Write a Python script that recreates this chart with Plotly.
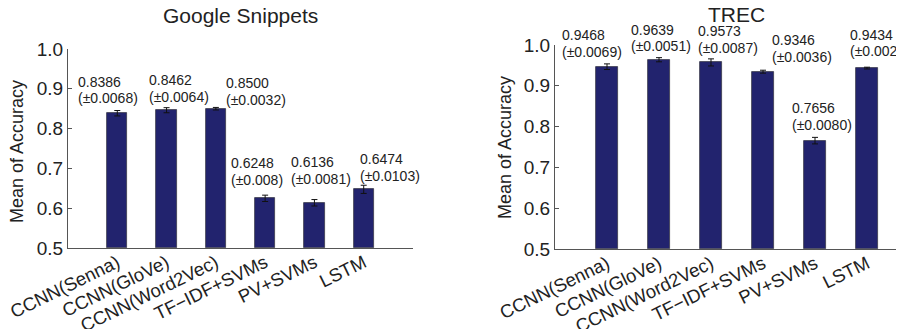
import plotly.graph_objects as go

categories = ["CCNN(Senna)", "CCNN(GloVe)", "CCNN(Word2Vec)", "TF\u2212IDF+SVMs", "PV+SVMs", "LSTM"]

google_mean = [0.8386, 0.8462, 0.8500, 0.6248, 0.6136, 0.6474]
google_std_text = ["0.0068", "0.0064", "0.0032", "0.008", "0.0081", "0.0103"]

trec_mean = [0.9468, 0.9639, 0.9573, 0.9346, 0.7656, 0.9434]
trec_std_text = ["0.0069", "0.0051", "0.0087", "0.0036", "0.0080", "0.0022"]

titles = ["Google Snippets", "TREC"]
y_title = "Mean of Accuracy"
y_ticks = [0.5, 0.6, 0.7, 0.8, 0.9, 1.0]

# ---- layout / style ----
PAGE_OFF = 8            # default body margin of the html page
W, H = 904 - PAGE_OFF, 329 - PAGE_OFF
bar_color = "#22236e"
text_color = "#222222"
font_family = "Liberation Sans, Arial, Helvetica, sans-serif"

# positions of the hand-placed value labels (offset from bar, y in data units)
google_label_dx = [-0.84, -0.40, 0.17, -0.73, -0.51, -0.11]
google_label_y = [0.897, 0.901, 0.893, 0.692, 0.694, 0.703]
trec_label_dx = [-0.90, -0.58, -0.28, 0.13, -0.48, -0.36]
trec_label_y = [1.004, 1.017, 1.014, 0.991, 0.825, 1.005]

def px_x(p):
    return (p - PAGE_OFF) / W

def px_y(p):
    return (H - (p - PAGE_OFF)) / H

positions = list(range(1, len(categories) + 1))
y_range = [0.5, 1.0]

panels = [
    dict(mean=google_mean, stdt=google_std_text, dx=google_label_dx, ly=google_label_y,
         xa="x", ya="y", xdom=[px_x(68), px_x(413)], xrange=[0, 7],
         ydom=[px_y(248), px_y(49)]),
    dict(mean=trec_mean, stdt=trec_std_text, dx=trec_label_dx, ly=trec_label_y,
         xa="x2", ya="y2", xdom=[px_x(555), 1.0], xrange=[0, 349 / 52],
         ydom=[px_y(249), px_y(45)]),
]

def to_paper(v, dom, rng):
    return dom[0] + (v - rng[0]) / (rng[1] - rng[0]) * (dom[1] - dom[0])

fig = go.Figure()
annotations = []

for p in panels:
    fig.add_trace(go.Bar(
        x=positions, y=[m - y_range[0] for m in p["mean"]], base=y_range[0],
        width=0.41,
        marker=dict(color=bar_color, line=dict(color="#3a3a4a", width=0.8)),
        error_y=dict(type="data", array=[float(s) for s in p["stdt"]], color="#111111",
                     thickness=1, width=3),
        xaxis=p["xa"], yaxis=p["ya"], showlegend=False, hoverinfo="skip",
    ))
    for k, (m, s) in enumerate(zip(p["mean"], p["stdt"])):
        ax = to_paper(positions[k] + p["dx"][k], p["xdom"], p["xrange"])
        ay = to_paper(p["ly"][k], p["ydom"], y_range)
        for line, shift in [(f"{m:.4f}", 8.3), (f"(\u00b1{s})", -8.3)]:
            annotations.append(dict(
                x=ax, y=ay, xref="paper", yref="paper",
                text=line, showarrow=False, xanchor="left", yanchor="middle",
                yshift=shift, font=dict(size=14, color=text_color, family=font_family),
            ))

# titles
annotations.append(dict(x=px_x(240), y=px_y(15), xref="paper", yref="paper", text=titles[0],
                        showarrow=False, xanchor="center", yanchor="middle",
                        font=dict(size=21, color=text_color, family=font_family)))
annotations.append(dict(x=px_x(736), y=px_y(14), xref="paper", yref="paper", text=titles[1],
                        showarrow=False, xanchor="center", yanchor="middle",
                        font=dict(size=21, color=text_color, family=font_family)))
# y-axis titles
annotations.append(dict(x=px_x(17), y=px_y(152), xref="paper", yref="paper", text=y_title,
                        showarrow=False, textangle=-90, xanchor="center", yanchor="middle",
                        font=dict(size=18, color=text_color, family=font_family)))
annotations.append(dict(x=px_x(505), y=px_y(148), xref="paper", yref="paper", text=y_title,
                        showarrow=False, textangle=-90, xanchor="center", yanchor="middle",
                        font=dict(size=18, color=text_color, family=font_family)))

axis_common_x = dict(
    tickmode="array", tickvals=positions, ticktext=categories, tickangle=-26,
    showline=True, linecolor="#555555", linewidth=1, ticks="", showgrid=False,
    zeroline=False, tickfont=dict(size=18.5, color=text_color, family=font_family),
    fixedrange=True, automargin=False, ticklabeloverflow="allow",
    ticklabelstandoff=-4,
)
axis_common_y = dict(
    range=y_range, tickmode="array", tickvals=y_ticks, tickformat=".1f",
    showline=True, linecolor="#555555", linewidth=1, ticks="inside", ticklen=4,
    tickcolor="#555555", showgrid=False, zeroline=False,
    tickfont=dict(size=19, color=text_color, family=font_family), fixedrange=True,
    automargin=False, ticklabeloverflow="allow",
)

fig.update_layout(
    width=W, height=H, margin=dict(l=0, r=0, t=0, b=0, autoexpand=False),
    paper_bgcolor="white", plot_bgcolor="white",
    xaxis=dict(axis_common_x, domain=panels[0]["xdom"], range=panels[0]["xrange"], anchor="y"),
    yaxis=dict(axis_common_y, domain=panels[0]["ydom"], anchor="x"),
    xaxis2=dict(axis_common_x, domain=panels[1]["xdom"], range=panels[1]["xrange"], anchor="y2"),
    yaxis2=dict(axis_common_y, domain=panels[1]["ydom"], anchor="x2"),
    annotations=annotations,
    bargap=0,
)

fig.write_html("out.html")
